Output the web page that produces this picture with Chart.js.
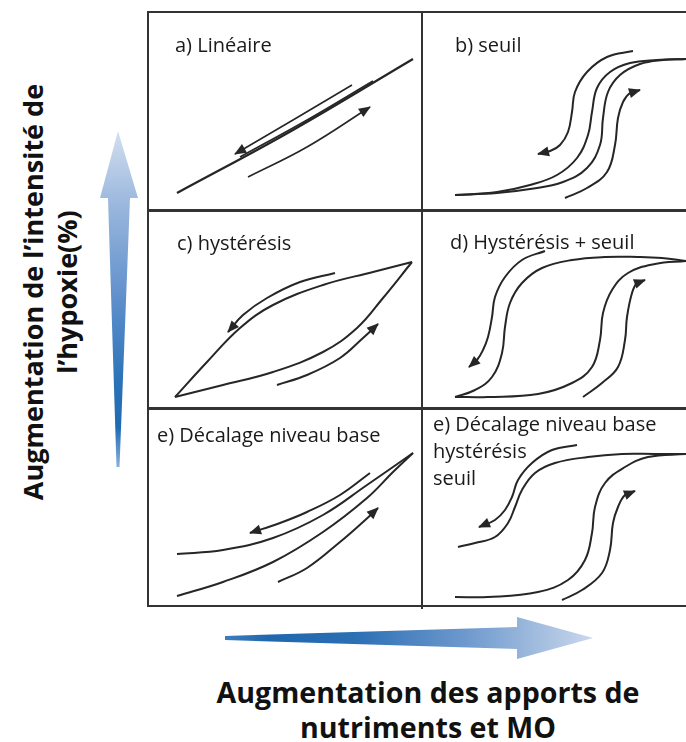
<!DOCTYPE html>
<html>
<head>
<meta charset="utf-8">
<script src="https://cdn.jsdelivr.net/npm/chart.js@4.4.1/dist/chart.umd.min.js"></script>
<style>
  body { margin: 0; width: 686px; height: 742px; background: #fff; position: relative; overflow: hidden; font-family: "Open Sans", sans-serif; }
  canvas { position: absolute; }
  .title { position: absolute; font-size: 20px; color: #1a1a1a; line-height: 27px; white-space: nowrap; }
  .rule { position: absolute; background: #333; z-index: 5; }
  .axis { position: absolute; font-weight: 700; color: #111; text-align: center; white-space: nowrap; }
  .arrow { position: absolute; }
</style>
</head>
<body>

<canvas id="pA" width="274" height="198" style="left:148px;top:12px"></canvas>
<canvas id="pB" width="264" height="198" style="left:422px;top:12px"></canvas>
<canvas id="pC" width="274" height="198" style="left:148px;top:210px"></canvas>
<canvas id="pD" width="264" height="198" style="left:422px;top:210px"></canvas>
<canvas id="pE" width="274" height="198" style="left:148px;top:408px"></canvas>
<canvas id="pF" width="264" height="198" style="left:422px;top:408px"></canvas>

<!-- grid frame -->
<div class="rule" style="left:147px;top:11px;width:540px;height:2px"></div>
<div class="rule" style="left:147px;top:209px;width:540px;height:3px"></div>
<div class="rule" style="left:147px;top:407px;width:540px;height:3px"></div>
<div class="rule" style="left:147px;top:605px;width:540px;height:2px"></div>
<div class="rule" style="left:147px;top:11px;width:2px;height:596px"></div>
<div class="rule" style="left:421px;top:11px;width:2px;height:598px"></div>

<!-- panel titles -->
<div class="title" style="left:175px;top:31px">a) Linéaire</div>
<div class="title" style="left:455px;top:31px">b) seuil</div>
<div class="title" style="left:177px;top:229px">c) hystérésis</div>
<div class="title" style="left:450px;top:228px">d) Hystérésis + seuil</div>
<div class="title" style="left:157px;top:421px">e) Décalage niveau base</div>
<div class="title" style="left:433px;top:410px">e) Décalage niveau base<br>hystérésis<br>seuil</div>

<!-- axis arrows -->
<div class="arrow" style="left:100px;top:131px;width:40px;height:337px;
  clip-path:polygon(18px 0,38px 67px,30px 67px,19.5px 336px,16.5px 336px,8px 67px,0 67px);
  background:linear-gradient(to bottom,#d3dfef 0%,#9ab7dd 22%,#5f8fcb 50%,#2a72b8 75%,#1f6cb4 88%,#8db3dc 100%)"></div>
<div class="arrow" style="left:225px;top:617px;width:368px;height:42px;
  clip-path:polygon(0 19px,292px 10px,292px 0,368px 21px,292px 42px,292px 32px,0 23px);
  background:linear-gradient(to right,#3f7dbd 0%,#1f67ae 12%,#2b6fb4 35%,#6d98cd 65%,#cad8ec 100%)"></div>

<!-- axis labels -->
<div class="axis" style="left:-180px;top:258px;width:460px;height:68px;font-size:27px;line-height:34px;transform:rotate(-90deg)">Augmentation de l’intensité de<br>l’hypoxie(%)</div>
<div class="axis" style="left:128px;top:674px;width:600px;font-size:28.6px;line-height:35px">Augmentation des apports de<br>nutriments et MO</div>

<script>
// Panel a) Linéaire — local units: x right, y up
const linMain = [[29, 17], [145, 80], [265, 151]];
const linDouble = [[92, 53], [160, 90.5], [225, 129]];
const linArrowDown = [[204, 125], [145, 90], [87, 56]];
const linArrowUp = [[100, 33], [159, 63], [222, 103]];

// Panel b) seuil
const seuilS1 = [[33, 15], [75, 18], [108, 25], [135, 35], [155, 52], [166, 75], [170, 98], [175, 122], [188, 138], [208, 147], [235, 150], [264, 151]];
const seuilS2 = [[33, 15], [75, 17], [108, 21], [141, 28], [165, 42], [178, 65], [181, 92], [186, 118], [198, 135], [218, 146], [241, 150], [264, 151]];
const seuilArrowDown = [[211, 159], [185, 153], [165, 138], [153, 118], [150, 98], [146, 78], [138, 65], [128, 59], [116, 56]];
const seuilArrowUp = [[143, 12], [165, 22], [185, 38], [193, 65], [196, 92], [201, 108], [208, 117], [218, 120]];

// Panel c) hystérésis
const hystHaut = [[27, 11], [59, 46], [92, 80], [125, 103], [175, 123], [225, 136], [264, 146]];
const hystBas = [[27, 11], [75, 23], [125, 36], [175, 56], [209, 80], [235, 110], [264, 146]];
const hystArrowDown = [[187, 135], [152, 126], [119, 110], [95, 93], [80, 76]];
const hystArrowUp = [[129, 23], [159, 33], [192, 50], [215, 70], [230, 84]];

// Panel d) Hystérésis + seuil
const hsGauche = [[33, 11], [53, 18], [70, 31], [80, 55], [83, 81], [88, 105], [100, 125], [120, 140], [150, 148], [183, 151], [216, 151], [240, 150], [264, 147]];
const hsDroite = [[33, 11], [66, 11], [116, 14], [150, 25], [170, 41], [178, 68], [181, 95], [190, 118], [206, 135], [233, 144], [264, 147]];
const hsArrowDown = [[123, 157], [100, 148], [83, 131], [73, 111], [70, 91], [66, 71], [61, 58], [55, 48], [47, 41]];
const hsArrowUp = [[161, 11], [180, 25], [196, 41], [203, 68], [205, 91], [210, 115], [215, 125], [223, 128]];

// Panel e) Décalage niveau base
const decHaut = [[29, 52], [75, 56], [125, 68], [175, 91], [219, 121], [245, 139], [265, 153]];
const decBas = [[29, 10], [75, 24], [125, 44], [175, 74], [219, 108], [245, 134], [265, 153]];
const decArrowDown = [[222, 133], [192, 111], [159, 94], [132, 83], [102, 73]];
const decArrowUp = [[130, 24], [159, 38], [192, 64], [215, 84], [230, 98]];

// Panel e bis) Décalage niveau base + hystérésis + seuil
const tousGauche = [[36, 59], [53, 63], [73, 69], [86, 83], [93, 99], [100, 116], [113, 133], [133, 143], [166, 149], [200, 152], [233, 152], [264, 152]];
const tousDroite = [[33, 9], [66, 9], [116, 14], [146, 26], [163, 46], [170, 73], [173, 99], [183, 123], [203, 139], [226, 149], [264, 152]];
const tousArrowDown = [[155, 161], [130, 156], [110, 143], [96, 126], [90, 109], [83, 96], [73, 86], [57, 79]];
const tousArrowUp = [[140, 6], [160, 16], [180, 33], [188, 56], [191, 83], [196, 99], [203, 111], [213, 115]];

const ink = '#262626';

// draws a filled triangle at the end of datasets flagged with arrow:true
const arrowHeads = {
  id: 'arrowHeads',
  afterDatasetsDraw(chart) {
    const ctx = chart.ctx;
    chart.data.datasets.forEach((ds, i) => {
      if (!ds.arrow) return;
      const pts = chart.getDatasetMeta(i).data;
      const a = pts[pts.length - 2], b = pts[pts.length - 1];
      const ang = Math.atan2(b.y - a.y, b.x - a.x);
      ctx.save();
      ctx.translate(b.x, b.y);
      ctx.rotate(ang);
      ctx.beginPath();
      ctx.moveTo(1, 0);
      ctx.lineTo(-11, -5);
      ctx.lineTo(-11, 5);
      ctx.closePath();
      ctx.fillStyle = ds.borderColor;
      ctx.fill();
      ctx.restore();
    });
  }
};

function curve(pts, arrow, width) {
  return {
    data: pts.map(([x, y]) => ({ x, y })),
    arrow: !!arrow,
    showLine: true,
    borderColor: ink,
    borderWidth: width || 2,
    pointRadius: 0,
    tension: 0.4,
    clip: false,
    fill: false
  };
}

function makePanel(id, sets) {
  const el = document.getElementById(id);
  new Chart(el, {
    type: 'scatter',
    data: { datasets: sets },
    options: {
      responsive: false,
      animation: false,
      events: [],
      layout: { padding: 0 },
      plugins: { legend: { display: false }, tooltip: { enabled: false } },
      scales: {
        x: { type: 'linear', display: false, min: 0, max: el.width },
        y: { type: 'linear', display: false, min: 0, max: el.height }
      }
    },
    plugins: [arrowHeads]
  });
}

makePanel('pA', [curve(linMain, false, 2.3), curve(linDouble, false, 1.7), curve(linArrowDown, true, 1.6), curve(linArrowUp, true, 1.6)]);
makePanel('pB', [curve(seuilS1), curve(seuilS2), curve(seuilArrowDown, true), curve(seuilArrowUp, true)]);
makePanel('pC', [curve(hystHaut), curve(hystBas), curve(hystArrowDown, true), curve(hystArrowUp, true)]);
makePanel('pD', [curve(hsGauche), curve(hsDroite), curve(hsArrowDown, true), curve(hsArrowUp, true)]);
makePanel('pE', [curve(decHaut), curve(decBas), curve(decArrowDown, true), curve(decArrowUp, true)]);
makePanel('pF', [curve(tousGauche), curve(tousDroite), curve(tousArrowDown, true), curve(tousArrowUp, true)]);
</script>
</body>
</html>
